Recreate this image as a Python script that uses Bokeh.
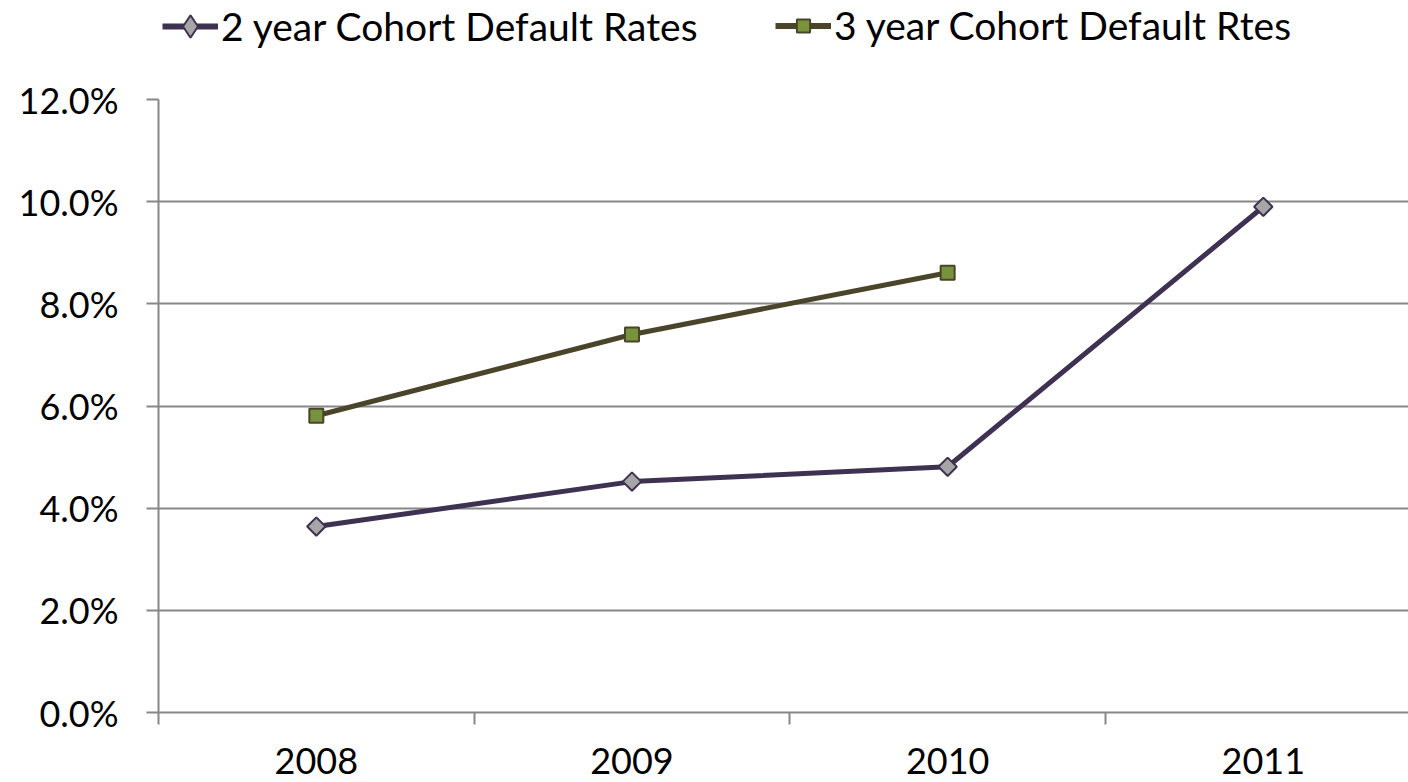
from bokeh.plotting import figure
from bokeh.layouts import column
from bokeh.models import Range1d, FixedTicker, Legend, LegendItem, NumeralTickFormatter
from bokeh.embed import file_html
from bokeh.resources import INLINE

years = ["2008", "2009", "2010", "2011"]
two_year = [0.0364, 0.0452, 0.0481, 0.099]
three_year = [0.0581, 0.0740, 0.0861]
y_ticks = [0.0, 0.02, 0.04, 0.06, 0.08, 0.10, 0.12]
series_names = ["2 year Cohort Default Rates", "3 year Cohort Default Rtes"]

FONT = "Lato"
FS = "36px"
LEG_FS = "39px"
GRID = "#878787"
C2_LINE, C2_FILL = "#3F3151", "#A6A6A6"
C3_LINE, C3_FILL = "#4A452A", "#77933C"

x2 = list(range(len(two_year)))
x3 = list(range(len(three_year)))

# ---- main chart ----
p = figure(width=1408, height=722, output_backend="svg", toolbar_location=None,
           x_range=Range1d(-0.5, 3.46), y_range=Range1d(0, 0.12),
           min_border_left=158, min_border_right=0, min_border_top=39, min_border_bottom=70)
p.outline_line_color = None

p.line(x2, two_year, line_color=C2_LINE, line_width=5)
p.scatter(x2, two_year, marker="square", angle=0.785398, size=13,
          fill_color=C2_FILL, line_color=C2_LINE, line_width=2)
p.line(x3, three_year, line_color=C3_LINE, line_width=5)
p.scatter(x3, three_year, marker="square", size=14,
          fill_color=C3_FILL, line_color=C3_LINE, line_width=2)

p.xaxis.ticker = FixedTicker(ticks=x2, minor_ticks=[-0.5, 0.5, 1.5, 2.5])
p.xaxis.major_label_overrides = {i: y for i, y in enumerate(years)}
p.xaxis.major_tick_line_color = None
p.xaxis.major_tick_out = 0
p.xaxis.major_tick_in = 0
p.xaxis.minor_tick_line_color = GRID
p.xaxis.minor_tick_line_width = 2
p.xaxis.minor_tick_out = 12
p.xaxis.minor_tick_in = 0
p.xaxis.axis_line_color = GRID
p.xaxis.axis_line_width = 2
p.xaxis.major_label_text_font = FONT
p.xaxis.major_label_text_font_size = FS
p.xaxis.major_label_text_color = "black"
p.xaxis.major_label_standoff = 23

p.yaxis.ticker = FixedTicker(ticks=y_ticks)
p.yaxis.formatter = NumeralTickFormatter(format="0.0%")
p.yaxis.major_tick_line_color = GRID
p.yaxis.major_tick_line_width = 2
p.yaxis.major_tick_out = 12
p.yaxis.major_tick_in = 0
p.yaxis.minor_tick_line_color = None
p.yaxis.axis_line_color = GRID
p.yaxis.axis_line_width = 2
p.yaxis.major_label_text_font = FONT
p.yaxis.major_label_text_font_size = FS
p.yaxis.major_label_text_color = "black"
p.yaxis.major_label_standoff = 28

p.xgrid.grid_line_color = None
p.ygrid.ticker = FixedTicker(ticks=y_ticks)
p.ygrid.grid_line_color = GRID
p.ygrid.grid_line_width = 2

# ---- legend strip: same series, drawn outside its visible y range, so only the legend shows ----
lg = figure(width=1408, height=60, output_backend="svg", toolbar_location=None,
            x_range=Range1d(0, 1), y_range=Range1d(10, 11),
            x_axis_type=None, y_axis_type=None,
            min_border_left=0, min_border_right=0, min_border_top=0, min_border_bottom=0)
lg.outline_line_color = None
lg.grid.grid_line_color = None

k2l = lg.line(x2, two_year, line_color=C2_LINE, line_width=6)
k2s = lg.scatter(x2, two_year, marker="diamond", fill_color=C2_FILL, line_color=C2_LINE, line_width=2)
k3l = lg.line(x3, three_year, line_color=C3_LINE, line_width=6)
k3s = lg.scatter(x3, three_year, marker="square", fill_color=C3_FILL, line_color=C3_LINE, line_width=2)

common = dict(label_text_font=FONT, label_text_font_size=LEG_FS, label_text_color="black",
              glyph_width=56, label_standoff=3, padding=0, margin=0,
              border_line_color=None, background_fill_alpha=0)
leg1 = Legend(items=[LegendItem(label=series_names[0], renderers=[k2l, k2s])],
              location=(4, 4), glyph_height=60, **common)
leg2 = Legend(items=[LegendItem(label=series_names[1], renderers=[k3l, k3s])],
              location=(617, 12), glyph_height=33, **common)
lg.add_layout(leg1, "center")
lg.add_layout(leg2, "center")

layout = column(lg, p, spacing=0)
open("out.html", "w").write(file_html(layout, INLINE))
